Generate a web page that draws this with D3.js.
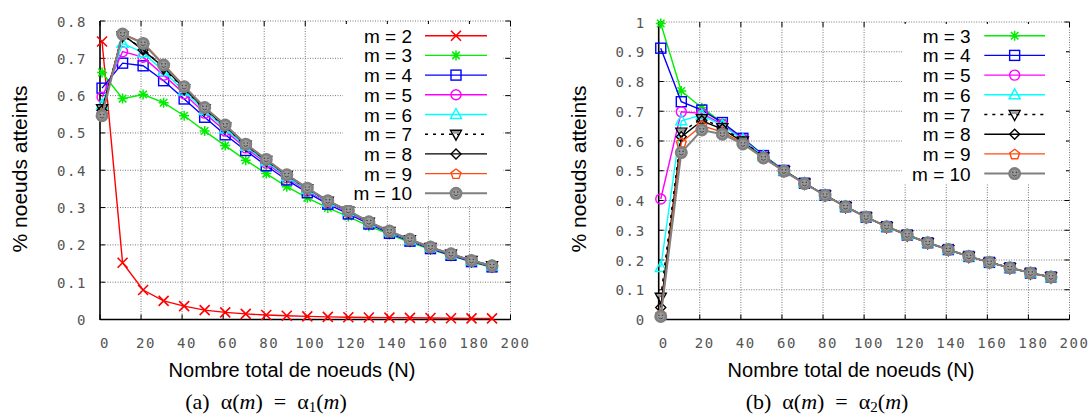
<!DOCTYPE html>
<html>
<head>
<meta charset="utf-8">
<script src="https://cdn.jsdelivr.net/npm/d3@7"></script>
<style>
  html, body { margin: 0; padding: 0; background: #fff; }
  svg { display: block; }
</style>
</head>
<body>
<svg id="chart" width="1091" height="418"></svg>
<script>
// ---------- DATA ----------
const nValues = [1, 11, 21, 31, 41, 51, 61, 71, 81, 91, 101, 111, 121, 131, 141, 151, 161, 171, 181, 191];

const xTicks = [0, 20, 40, 60, 80, 100, 120, 140, 160, 180, 200];
const yTicksLeft = [0, 0.1, 0.2, 0.3, 0.4, 0.5, 0.6, 0.7, 0.8];
const yTicksRight = [0, 0.1, 0.2, 0.3, 0.4, 0.5, 0.6, 0.7, 0.8, 0.9, 1];

const seriesNames = ["m = 2", "m = 3", "m = 4", "m = 5", "m = 6", "m = 7", "m = 8", "m = 9", "m = 10"];

// (a) alpha(m) = alpha1(m)
const leftM2  = [0.745, 0.152, 0.079, 0.050, 0.036, 0.025, 0.019, 0.015, 0.012, 0.010, 0.0085, 0.007, 0.006, 0.0055, 0.005, 0.0045, 0.004, 0.0035, 0.003, 0.003];
const leftM3  = [0.662, 0.592, 0.603, 0.581, 0.546, 0.505, 0.466, 0.427, 0.391, 0.356, 0.326, 0.299, 0.276, 0.250, 0.228, 0.207, 0.188, 0.171, 0.154, 0.140];
const leftM4  = [0.620, 0.687, 0.680, 0.640, 0.591, 0.542, 0.495, 0.453, 0.412, 0.374, 0.340, 0.309, 0.283, 0.256, 0.231, 0.210, 0.190, 0.172, 0.155, 0.141];
const leftM5  = [0.596, 0.718, 0.703, 0.655, 0.605, 0.553, 0.505, 0.460, 0.419, 0.380, 0.345, 0.313, 0.287, 0.259, 0.234, 0.212, 0.192, 0.174, 0.157, 0.143];
const leftM6  = [0.575, 0.740, 0.715, 0.665, 0.612, 0.560, 0.511, 0.464, 0.423, 0.383, 0.348, 0.315, 0.289, 0.260, 0.235, 0.213, 0.193, 0.175, 0.157, 0.143];
const leftM7  = [0.565, 0.760, 0.727, 0.673, 0.618, 0.564, 0.516, 0.467, 0.426, 0.386, 0.350, 0.317, 0.290, 0.261, 0.236, 0.214, 0.193, 0.175, 0.158, 0.144];
const leftM8  = [0.560, 0.764, 0.722, 0.676, 0.620, 0.565, 0.518, 0.468, 0.427, 0.387, 0.351, 0.317, 0.291, 0.261, 0.236, 0.214, 0.194, 0.176, 0.158, 0.144];
const leftM9  = [0.552, 0.766, 0.742, 0.684, 0.626, 0.569, 0.522, 0.471, 0.430, 0.389, 0.353, 0.319, 0.292, 0.262, 0.237, 0.215, 0.194, 0.176, 0.158, 0.144];
const leftM10 = [0.546, 0.765, 0.740, 0.682, 0.624, 0.568, 0.521, 0.470, 0.429, 0.388, 0.352, 0.318, 0.292, 0.262, 0.237, 0.215, 0.194, 0.176, 0.158, 0.144];

// (b) alpha(m) = alpha2(m)
const rightM3  = [0.995, 0.768, 0.712, 0.662, 0.610, 0.552, 0.502, 0.458, 0.418, 0.380, 0.345, 0.313, 0.285, 0.258, 0.235, 0.212, 0.192, 0.174, 0.157, 0.143];
const rightM4  = [0.912, 0.732, 0.704, 0.662, 0.609, 0.551, 0.501, 0.458, 0.418, 0.379, 0.344, 0.312, 0.284, 0.258, 0.235, 0.212, 0.192, 0.174, 0.156, 0.143];
const rightM5  = [0.405, 0.698, 0.693, 0.656, 0.606, 0.549, 0.500, 0.458, 0.418, 0.379, 0.344, 0.312, 0.284, 0.258, 0.235, 0.212, 0.192, 0.174, 0.156, 0.143];
const rightM6  = [0.175, 0.668, 0.687, 0.652, 0.604, 0.548, 0.500, 0.458, 0.418, 0.379, 0.344, 0.312, 0.284, 0.258, 0.235, 0.212, 0.192, 0.174, 0.156, 0.143];
const rightM7  = [0.075, 0.630, 0.675, 0.645, 0.600, 0.546, 0.500, 0.458, 0.418, 0.379, 0.344, 0.312, 0.284, 0.258, 0.235, 0.212, 0.192, 0.174, 0.156, 0.143];
const rightM8  = [0.040, 0.614, 0.668, 0.640, 0.597, 0.545, 0.500, 0.458, 0.418, 0.379, 0.344, 0.312, 0.284, 0.258, 0.235, 0.212, 0.192, 0.174, 0.156, 0.143];
const rightM9  = [0.018, 0.595, 0.652, 0.630, 0.593, 0.544, 0.499, 0.457, 0.418, 0.379, 0.344, 0.312, 0.284, 0.258, 0.235, 0.212, 0.192, 0.174, 0.156, 0.143];
const rightM10 = [0.010, 0.561, 0.637, 0.623, 0.590, 0.543, 0.499, 0.457, 0.418, 0.379, 0.344, 0.312, 0.284, 0.258, 0.235, 0.212, 0.192, 0.174, 0.156, 0.143];

// ---------- STYLE ----------
const styles = {
  "m = 2":  { color: "#ff0000", marker: "x",        dash: null },
  "m = 3":  { color: "#00ee00", marker: "star",     dash: null },
  "m = 4":  { color: "#0000ff", marker: "square",   dash: null },
  "m = 5":  { color: "#ff00ff", marker: "circle",   dash: null },
  "m = 6":  { color: "#00ffff", marker: "triangle", dash: null },
  "m = 7":  { color: "#000000", marker: "dtriangle",dash: "3,5" },
  "m = 8":  { color: "#000000", marker: "diamond",  dash: null },
  "m = 9":  { color: "#ff4a10", marker: "pentagon", dash: null },
  "m = 10": { color: "#808080", marker: "smiley",   dash: null }
};

const svg = d3.select("#chart");

function drawMarker(g, type, color, cx, cy) {
  const sw = 1.4;
  const m = g.append("g").attr("transform", `translate(${cx},${cy})`);
  const s = 5;
  if (type === "x") {
    m.append("path").attr("d", `M${-s},${-s}L${s},${s}M${-s},${s}L${s},${-s}`).attr("stroke", color).attr("stroke-width", 1.6).attr("fill", "none");
  } else if (type === "star") {
    m.append("path").attr("d", `M${-s},0L${s},0M0,${-s}L0,${s}M${-s*0.75},${-s*0.75}L${s*0.75},${s*0.75}M${-s*0.75},${s*0.75}L${s*0.75},${-s*0.75}`).attr("stroke", color).attr("stroke-width", 1.5).attr("fill", "none");
  } else if (type === "square") {
    m.append("rect").attr("x", -5).attr("y", -5).attr("width", 10).attr("height", 10).attr("stroke", color).attr("stroke-width", sw).attr("fill", "none");
  } else if (type === "circle") {
    m.append("circle").attr("r", 5).attr("stroke", color).attr("stroke-width", sw).attr("fill", "none");
  } else if (type === "triangle") {
    m.append("path").attr("d", "M0,-6L5.5,4L-5.5,4Z").attr("stroke", color).attr("stroke-width", sw).attr("fill", "none");
  } else if (type === "dtriangle") {
    m.append("path").attr("d", "M0,6L5.5,-4L-5.5,-4Z").attr("stroke", color).attr("stroke-width", sw).attr("fill", "none");
    m.append("path").attr("d", "M-4,-3.3L4,-3.3L2.5,-0.5L-2.5,-0.5Z").attr("fill", "#999");
  } else if (type === "diamond") {
    m.append("path").attr("d", "M0,-5L5,0L0,5L-5,0Z").attr("stroke", color).attr("stroke-width", sw).attr("fill", "none");
  } else if (type === "pentagon") {
    const pts = d3.range(5).map(i => {
      const a = -Math.PI / 2 + i * 2 * Math.PI / 5;
      return [5.2 * Math.cos(a), 5.2 * Math.sin(a) + 0.6];
    });
    m.append("path").attr("d", "M" + pts.map(p => p.join(",")).join("L") + "Z").attr("stroke", color).attr("stroke-width", sw).attr("fill", "none");
  } else if (type === "smiley") {
    m.append("circle").attr("r", 5.2).attr("stroke", color).attr("stroke-width", 2.6).attr("fill", "#9a9a9a");
    m.append("circle").attr("cx", -1.8).attr("cy", -1.2).attr("r", 0.8).attr("fill", "#444");
    m.append("circle").attr("cx", 1.8).attr("cy", -1.2).attr("r", 0.8).attr("fill", "#444");
    m.append("path").attr("d", "M-2.3,1.2Q0,3.6 2.3,1.2").attr("stroke", "#444").attr("stroke-width", 0.9).attr("fill", "none");
  }
}

function drawChart(cfg) {
  const x = d3.scaleLinear().domain([0, 200]).range([cfg.x0, cfg.x1]);
  const y = d3.scaleLinear().domain([0, cfg.yMax]).range([cfg.yBottom, cfg.yTop]);
  const g = svg.append("g");

  // grid
  const grid = g.append("g").attr("stroke", "#777").attr("stroke-width", 1).attr("stroke-dasharray", "1,1.5");
  xTicks.forEach(t => {
    if (t === 0) return;
    grid.append("line").attr("x1", x(t)).attr("x2", x(t)).attr("y1", cfg.yTop).attr("y2", cfg.yBottom);
  });
  cfg.yTicks.forEach(t => {
    if (t === 0) return;
    grid.append("line").attr("x1", cfg.x0).attr("x2", cfg.x1).attr("y1", y(t)).attr("y2", y(t));
  });

  // mirrored inward ticks
  const ticks = g.append("g").attr("stroke", "#000").attr("stroke-width", 1);
  xTicks.forEach(t => {
    ticks.append("line").attr("x1", x(t)).attr("x2", x(t)).attr("y1", cfg.yBottom).attr("y2", cfg.yBottom - 5);
    ticks.append("line").attr("x1", x(t)).attr("x2", x(t)).attr("y1", cfg.yTop).attr("y2", cfg.yTop + 5);
  });
  cfg.yTicks.forEach(t => {
    ticks.append("line").attr("x1", cfg.x0).attr("x2", cfg.x0 + 5).attr("y1", y(t)).attr("y2", y(t));
    ticks.append("line").attr("x1", cfg.x1).attr("x2", cfg.x1 - 5).attr("y1", y(t)).attr("y2", y(t));
  });

  // axes lines (left, bottom)
  g.append("line").attr("x1", cfg.x0).attr("x2", cfg.x0).attr("y1", cfg.yTop).attr("y2", cfg.yBottom + 0.5).attr("stroke", "#000").attr("stroke-width", 1.6);
  g.append("line").attr("x1", cfg.x0).attr("x2", cfg.x1).attr("y1", cfg.yBottom).attr("y2", cfg.yBottom).attr("stroke", "#000").attr("stroke-width", 1.6);

  // tick labels
  const tickFont = "'DejaVu Sans Mono', 'Liberation Mono', monospace";
  xTicks.forEach(t => {
    g.append("text").attr("x", x(t) + 5).attr("y", cfg.yBottom + 28)
      .attr("text-anchor", "middle").attr("font-family", tickFont).attr("font-size", 14)
      .attr("letter-spacing", "1.6").attr("fill", "#555").text(String(t));
  });
  cfg.yTicks.forEach(t => {
    const label = (t === 0 || t === 1) ? String(t) : t.toFixed(1);
    g.append("text").attr("x", cfg.x0 - 13).attr("y", y(t) + 5.5)
      .attr("text-anchor", "end").attr("font-family", tickFont).attr("font-size", 14)
      .attr("letter-spacing", "1.6").attr("fill", "#555").text(label);
  });

  // axis titles
  g.append("text").attr("x", cfg.xTitleX).attr("y", 377)
    .attr("text-anchor", "middle").attr("font-family", "'Liberation Sans', Arial, sans-serif")
    .attr("font-size", 20).attr("fill", "#000").text("Nombre total de noeuds (N)");
  g.append("text").attr("transform", `translate(${cfg.yTitleX},169) rotate(-90)`)
    .attr("text-anchor", "middle").attr("font-family", "'Liberation Sans', Arial, sans-serif")
    .attr("font-size", 21).attr("fill", "#000").text("% noeuds atteints");

  // series
  const line = d3.line().x((d, i) => x(nValues[i])).y(d => y(d));
  cfg.series.forEach(s => {
    const st = styles[s.name];
    g.append("path").datum(s.values).attr("d", line).attr("fill", "none")
      .attr("stroke", st.color).attr("stroke-width", s.name === "m = 10" ? 2 : 1.4)
      .attr("stroke-dasharray", st.dash);
    s.values.forEach((v, i) => drawMarker(g, st.marker, st.color, x(nValues[i]), y(v)));
  });

  // legend
  const lg = g.append("g");
  lg.append("rect").attr("x", cfg.legBox[0]).attr("y", cfg.legBox[1]).attr("width", cfg.legBox[2]).attr("height", cfg.legBox[3]).attr("fill", "#fff");
  cfg.series.forEach((s, i) => {
    const st = styles[s.name];
    const ry = 35.7 + i * 19.7;
    lg.append("text").attr("x", cfg.legTextX).attr("y", ry + 7)
      .attr("text-anchor", "end").attr("font-family", "'Liberation Sans', Arial, sans-serif")
      .attr("font-size", 19).attr("fill", "#000").text(s.name);
    lg.append("line").attr("x1", cfg.legLine[0]).attr("x2", cfg.legLine[1]).attr("y1", ry).attr("y2", ry)
      .attr("stroke", st.color).attr("stroke-width", s.name === "m = 10" ? 2 : 1.4).attr("stroke-dasharray", st.dash);
    drawMarker(lg, st.marker, st.color, (cfg.legLine[0] + cfg.legLine[1]) / 2, ry);
  });

  // caption
  const cap = g.append("text").attr("x", cfg.capX).attr("y", 409)
    .attr("text-anchor", "middle").attr("font-family", "'Liberation Serif', 'Times New Roman', serif")
    .attr("font-size", 22).attr("fill", "#000").attr("xml:space", "preserve");
  cap.append("tspan").text(cfg.capLabel + "\u2002α(");
  cap.append("tspan").attr("font-style", "italic").text("m");
  cap.append("tspan").text(")\u2002=\u2002α");
  cap.append("tspan").attr("font-size", 15).attr("dy", 3).text(cfg.capSub);
  cap.append("tspan").attr("dy", -3).text("(");
  cap.append("tspan").attr("font-style", "italic").text("m");
  cap.append("tspan").text(")");
}

drawChart({
  x0: 100, x1: 510.5, yTop: 21, yBottom: 319.5, yMax: 0.8, yTicks: yTicksLeft,
  xTitleX: 292, yTitleX: 27, capX: 266, capLabel: "(a)", capSub: "1",
  legBox: [343, 24, 160, 181], legTextX: 412, legLine: [425, 487],
  series: [
    { name: "m = 2", values: leftM2 }, { name: "m = 3", values: leftM3 },
    { name: "m = 4", values: leftM4 }, { name: "m = 5", values: leftM5 },
    { name: "m = 6", values: leftM6 }, { name: "m = 7", values: leftM7 },
    { name: "m = 8", values: leftM8 }, { name: "m = 9", values: leftM9 },
    { name: "m = 10", values: leftM10 }
  ]
});

drawChart({
  x0: 658.7, x1: 1069.5, yTop: 22, yBottom: 319.5, yMax: 1, yTicks: yTicksRight,
  xTitleX: 851, yTitleX: 586, capX: 827, capLabel: "(b)", capSub: "2",
  legBox: [902, 24, 164, 160], legTextX: 970.7, legLine: [984.3, 1045],
  series: [
    { name: "m = 3", values: rightM3 }, { name: "m = 4", values: rightM4 },
    { name: "m = 5", values: rightM5 }, { name: "m = 6", values: rightM6 },
    { name: "m = 7", values: rightM7 }, { name: "m = 8", values: rightM8 },
    { name: "m = 9", values: rightM9 }, { name: "m = 10", values: rightM10 }
  ]
});
</script>
</body>
</html>
